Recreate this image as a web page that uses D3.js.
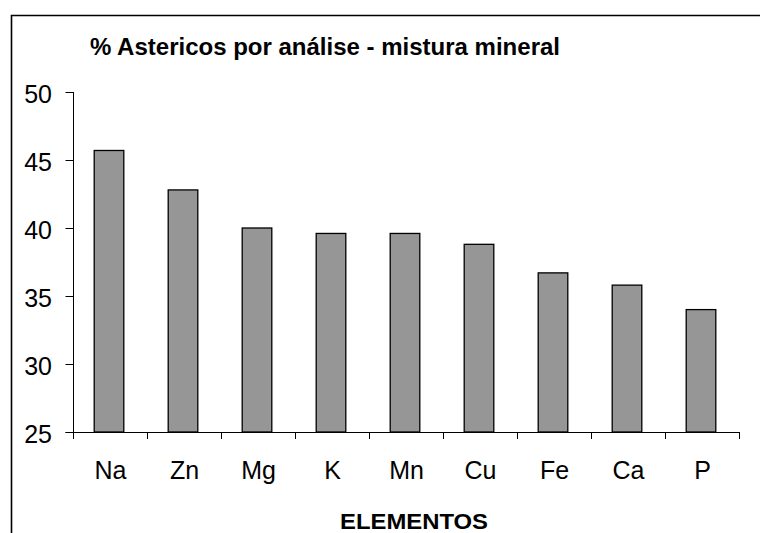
<!DOCTYPE html>
<html>
  <head>
    <meta charset="utf-8">
    <title>% Astericos por análise</title>
    <script src="https://cdn.jsdelivr.net/npm/d3@7"></script>
    <style>
      body { margin: 0; background: #fff; }
      text { font-family: Arial, "Liberation Sans", sans-serif; fill: #000; }
    </style>
  </head>

  <body>
    <div id="chart"></div>

    <script>
      // data
      const elementos = ["Na", "Zn", "Mg", "K", "Mn", "Cu", "Fe", "Ca", "P"];
      const asterisco = [45.7, 42.8, 40.0, 39.6, 39.6, 38.8, 36.7, 35.8, 34.0];
      const yTicks = [25, 30, 35, 40, 45, 50];

      const width = 760, height = 533;
      const plot = { left: 73.5, right: 739.5, top: 92, bottom: 432 };

      const svg = d3.select("#chart")
        .append("svg")
          .attr("width", width)
          .attr("height", height);

      // outer frame (only top and left edges visible)
      svg.append("path")
        .attr("d", "M11.5," + height + "V15.5H" + width)
        .attr("fill", "none")
        .attr("stroke", "#000")
        .attr("stroke-width", 1.6);

      // scales
      const x = d3.scaleBand()
        .domain(elementos)
        .range([plot.left, plot.right])
        .paddingInner(0.6)
        .paddingOuter(0.3);
      const xTick = d3.scaleLinear()
        .domain([0, elementos.length])
        .range([plot.left, plot.right]);
      const y = d3.scaleLinear()
        .domain([25, 50])
        .range([plot.bottom, plot.top]);

      // bars
      svg.append("g")
          .attr("transform", "translate(-1.5,0)")
        .selectAll("rect")
          .data(elementos)
        .enter().append("rect")
          .attr("x", function(d) { return x(d); })
          .attr("width", x.bandwidth())
          .attr("y", function(d, i) { return y(asterisco[i]); })
          .attr("height", function(d, i) { return y(25) - y(asterisco[i]); })
          .attr("fill", "#969696")
          .attr("stroke", "#000")
          .attr("stroke-width", 1.3);

      // y axis
      const yAxis = svg.append("g");
      yAxis.append("line")
        .attr("x1", plot.left).attr("x2", plot.left)
        .attr("y1", plot.top).attr("y2", plot.bottom)
        .attr("stroke", "#000");
      yAxis.selectAll(".ytick")
          .data(yTicks)
        .enter().append("line")
          .attr("x1", plot.left - 8).attr("x2", plot.left)
          .attr("y1", function(d) { return Math.round(y(d)) + 0.5; })
          .attr("y2", function(d) { return Math.round(y(d)) + 0.5; })
          .attr("stroke", "#000");
      yAxis.selectAll(".ylabel")
          .data(yTicks)
        .enter().append("text")
          .attr("x", 52)
          .attr("y", function(d) { return y(d) + 11; })
          .attr("text-anchor", "end")
          .style("font-size", "25px")
          .text(function(d) { return d; });

      // x axis
      const xAxis = svg.append("g");
      xAxis.append("line")
        .attr("x1", plot.left - 8).attr("x2", plot.right)
        .attr("y1", plot.bottom + 0.5).attr("y2", plot.bottom + 0.5)
        .attr("stroke", "#000");
      xAxis.selectAll(".xtick")
          .data(d3.range(elementos.length + 1))
        .enter().append("line")
          .attr("x1", function(d) { return xTick(d); })
          .attr("x2", function(d) { return xTick(d); })
          .attr("y1", plot.bottom).attr("y2", plot.bottom + 7)
          .attr("stroke", "#000");
      xAxis.selectAll(".xlabel")
          .data(elementos)
        .enter().append("text")
          .attr("x", function(d) { return x(d) + x.bandwidth() / 2; })
          .attr("y", plot.bottom + 47)
          .attr("text-anchor", "middle")
          .style("font-size", "25px")
          .text(function(d) { return d; });

      // titles
      svg.append("text")
        .attr("x", 90)
        .attr("y", 55)
        .attr("textLength", 470)
        .attr("lengthAdjust", "spacingAndGlyphs")
        .style("font-size", "23px")
        .style("font-weight", "bold")
        .text("% Astericos por análise - mistura mineral");
      svg.append("text")
        .attr("x", 340)
        .attr("y", 529)
        .attr("textLength", 148)
        .attr("lengthAdjust", "spacingAndGlyphs")
        .style("font-size", "22px")
        .style("font-weight", "bold")
        .text("ELEMENTOS");
    </script>
  </body>
</html>
